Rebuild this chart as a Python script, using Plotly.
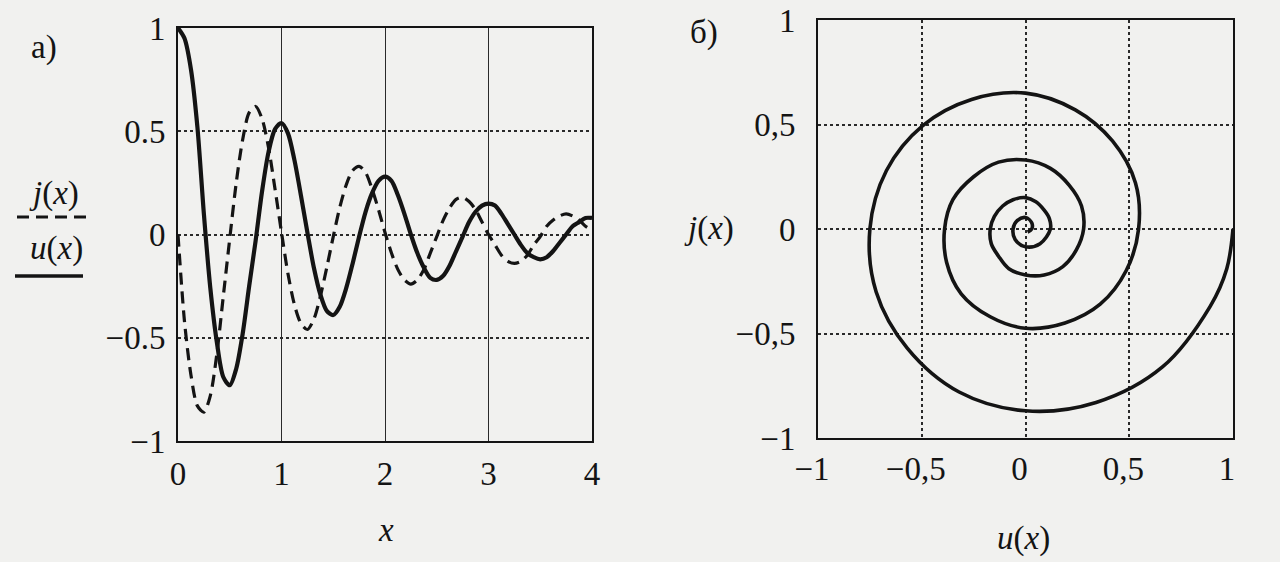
import plotly.graph_objects as go

# ---- data ----
x_vals = [0, 0.0625, 0.125, 0.1875, 0.25, 0.3125, 0.375, 0.4375,
          0.5, 0.5625, 0.625, 0.6875, 0.75, 0.8125, 0.875, 0.9375,
          1.0, 1.0625, 1.125, 1.1875, 1.25, 1.3125, 1.375, 1.4375,
          1.5, 1.5625, 1.625, 1.6875, 1.75, 1.8125, 1.875, 1.9375,
          2.0, 2.0625, 2.125, 2.1875, 2.25, 2.3125, 2.375, 2.4375,
          2.5, 2.5625, 2.625, 2.6875, 2.75, 2.8125, 2.875, 2.9375,
          3.0, 3.0625, 3.125, 3.1875, 3.25, 3.3125, 3.375, 3.4375,
          3.5, 3.5625, 3.625, 3.6875, 3.75, 3.8125, 3.875, 3.9375, 4.0]

u_vals = [1.00, 0.95, 0.80, 0.52, 0.10, -0.26, -0.52, -0.69,
          -0.73, -0.65, -0.48, -0.25, -0.03, 0.21, 0.40, 0.51,
          0.54, 0.49, 0.36, 0.19, 0.01, -0.16, -0.29, -0.37,
          -0.39, -0.35, -0.26, -0.14, -0.01, 0.11, 0.20, 0.26,
          0.28, 0.26, 0.19, 0.10, 0.00, -0.09, -0.16, -0.21,
          -0.22, -0.20, -0.15, -0.08, -0.01, 0.06, 0.11, 0.14,
          0.15, 0.14, 0.10, 0.05, 0.00, -0.05, -0.09, -0.11,
          -0.12, -0.11, -0.08, -0.04, 0.00, 0.04, 0.06, 0.08, 0.08]

j_vals = [0.00, -0.42, -0.68, -0.83, -0.86, -0.78, -0.58, -0.30,
          -0.02, 0.25, 0.46, 0.59, 0.62, 0.56, 0.42, 0.22,
          0.01, -0.19, -0.34, -0.43, -0.46, -0.41, -0.30, -0.16,
          -0.01, 0.13, 0.24, 0.31, 0.33, 0.30, 0.22, 0.12,
          0.01, -0.09, -0.17, -0.22, -0.24, -0.22, -0.17, -0.09,
          -0.01, 0.07, 0.13, 0.17, 0.18, 0.16, 0.12, 0.06,
          0.00, -0.05, -0.10, -0.13, -0.14, -0.13, -0.10, -0.05,
          -0.01, 0.04, 0.07, 0.09, 0.10, 0.09, 0.07, 0.04, 0.02]

# spiral j(u), points read along the curve of panel б)
spiral_u = [1.00, 0.97, 0.89, 0.66, 0.34, 0.00, -0.32, -0.57, -0.72,
            -0.75, -0.67, -0.495, -0.26, 0.00, 0.24, 0.42, 0.53,
            0.545, 0.485, 0.36, 0.19, 0.00, -0.17, -0.31, -0.38,
            -0.39, -0.35, -0.25, -0.13, 0.00, 0.12, 0.21, 0.27,
            0.28, 0.245, 0.18, 0.09, 0.00, -0.08, -0.13, -0.165,
            -0.17, -0.15, -0.11, -0.06, 0.00, 0.05, 0.09, 0.115,
            0.12, 0.07, 0.00, -0.05, -0.06, -0.04, 0.00, 0.03, 0.03, 0.01]
spiral_j = [0.00, -0.19, -0.37, -0.66, -0.83, -0.87, -0.78, -0.57, -0.30,
            0.00, 0.28, 0.495, 0.62, 0.65, 0.57, 0.42, 0.22,
            0.00, -0.20, -0.36, -0.45, -0.475, -0.42, -0.31, -0.16,
            0.00, 0.14, 0.25, 0.32, 0.33, 0.29, 0.21, 0.11,
            0.00, -0.10, -0.18, -0.22, -0.22, -0.19, -0.13, -0.07,
            0.00, 0.06, 0.11, 0.14, 0.15, 0.13, 0.09, 0.05,
            0.00, -0.07, -0.085, -0.05, 0.00, 0.04, 0.055, 0.03, 0.00, -0.015]

left_ticks = [-1, -0.5, 0, 0.5, 1]
left_ticktext = ["\u22121", "\u22120.5", "0", "0.5", "1"]
x_ticks = [0, 1, 2, 3, 4]
right_ticks = [-1, -0.5, 0, 0.5, 1]
right_ticktext = ["\u22121", "\u22120,5", "0", "0,5", "1"]

W, H = 1280, 562
FONT = "Liberation Serif"
INK = "#141414"
BG = "#f1f1ef"

fig = go.Figure()
fig.add_trace(go.Scatter(x=x_vals, y=j_vals, mode="lines", xaxis="x", yaxis="y",
                         line=dict(color=INK, width=3.2, dash="12px,7px", shape="spline", smoothing=0.8),
                         showlegend=False))
fig.add_trace(go.Scatter(x=x_vals, y=u_vals, mode="lines", xaxis="x", yaxis="y",
                         line=dict(color=INK, width=4.2, shape="spline", smoothing=0.8),
                         showlegend=False))
fig.add_trace(go.Scatter(x=spiral_u, y=spiral_j, mode="lines", xaxis="x2", yaxis="y2",
                         line=dict(color=INK, width=3.6, shape="spline", smoothing=1.0),
                         showlegend=False))

tickfont = dict(family=FONT, size=33, color=INK)
common = dict(showline=True, linecolor=INK, linewidth=2, mirror=True, ticks="",
              zeroline=False, tickfont=tickfont, automargin=False)

fig.update_layout(
    width=W, height=H, margin=dict(l=0, r=0, t=0, b=0, autoexpand=False),
    paper_bgcolor=BG, plot_bgcolor=BG, showlegend=False,
    xaxis=dict(domain=[178 / W, 592 / W], range=[0, 4], tickvals=x_ticks,
               gridcolor="#2a2a2a", gridwidth=1, griddash="solid",
               anchor="y", ticklabelstandoff=2, **common),
    yaxis=dict(domain=[1 - 441 / H, 1 - 28 / H], range=[-1, 1], tickvals=left_ticks,
               ticktext=left_ticktext, gridcolor="#2a2a2a", gridwidth=1.5, griddash="dot",
               anchor="x", ticklabelstandoff=4, **common),
    xaxis2=dict(domain=[818 / W, 1233 / W], range=[-1, 1], tickvals=right_ticks,
                ticktext=right_ticktext, gridcolor="#2a2a2a", gridwidth=1.5, griddash="dot",
                anchor="y2", ticklabelstandoff=0, ticklabelshift=-6, **common),
    yaxis2=dict(domain=[1 - 438 / H, 1 - 20 / H], range=[-1, 1], tickvals=right_ticks,
                ticktext=right_ticktext, gridcolor="#2a2a2a", gridwidth=1.5, griddash="dot",
                anchor="x2", ticklabelstandoff=14, **common),
)

def ann(text, px, py, size=33):
    fig.add_annotation(text=text, x=px / W, y=1 - py / H, xref="paper", yref="paper",
                       showarrow=False, xanchor="center", yanchor="middle",
                       font=dict(family=FONT, size=size, color=INK))

ann("а)", 44, 48)
ann("б)", 704, 32)
ann("<i>x</i>", 386, 530)
ann("<i>u</i>(<i>x</i>)", 1023, 538)
ann("<i>j</i>(<i>x</i>)", 709, 228)
ann("<i>j</i>(<i>x</i>)", 54, 193)
ann("<i>u</i>(<i>x</i>)", 56, 248)

fig.add_shape(type="line", xref="paper", yref="paper", x0=17 / W, x1=90 / W,
              y0=1 - 217 / H, y1=1 - 217 / H, line=dict(color=INK, width=3, dash="12px,7px"))
fig.add_shape(type="line", xref="paper", yref="paper", x0=15 / W, x1=83 / W,
              y0=1 - 276 / H, y1=1 - 276 / H, line=dict(color=INK, width=3.5))

fig.write_html("out.html")
